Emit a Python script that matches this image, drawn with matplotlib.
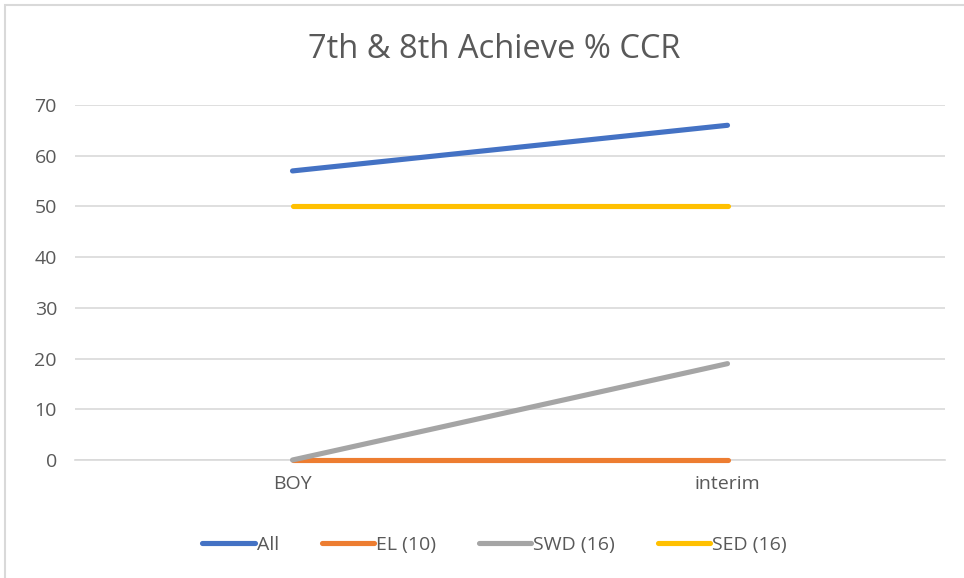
import matplotlib
matplotlib.use("Agg")
import matplotlib.pyplot as plt
from matplotlib.patches import Rectangle

categories = ["BOY", "interim"]
series_names = ["All", "EL (10)", "SWD (16)", "SED (16)"]
all_vals = [57, 66]
el_vals = [0, 0]
swd_vals = [0, 19]
sed_vals = [50, 50]
colors = ["#4472C4", "#ED7D31", "#A5A5A5", "#FFC000"]
y_ticks = [0, 10, 20, 30, 40, 50, 60, 70]

plt.rcParams['font.family'] = ['Open Sans', 'DejaVu Sans']

fig = plt.figure(figsize=(9.64, 5.78), dpi=100)
fig.patches.append(Rectangle((5/964, -0.1), 1.2, 1 - 5/578 + 0.1, transform=fig.transFigure,
                             fill=False, edgecolor="#D9D9D9", linewidth=1.5))
ax = fig.add_axes([75/964, 1 - 460/578, (945 - 75)/964, (460 - 105)/578])

x = list(range(len(categories)))
for i, (name, vals, c) in enumerate(zip(series_names, [all_vals, el_vals, swd_vals, sed_vals], colors)):
    ax.plot(x, vals, color=c, linewidth=3.7, solid_capstyle="round", label=name,
            clip_on=False, zorder=3 + i)

ax.set_xlim(-0.5, len(categories) - 0.5)
ax.set_ylim(0, 70)
ax.set_yticks(y_ticks)
ax.set_xticks(x)
ax.set_xticklabels(categories)
ax.grid(axis="y", color="#D9D9D9", linewidth=1.2)
ax.set_axisbelow(True)
for s in ["top", "right", "left"]:
    ax.spines[s].set_visible(False)
ax.spines["bottom"].set_color("#D9D9D9")
ax.spines["bottom"].set_linewidth(1.2)
ax.spines["bottom"].set_zorder(1)
ax.tick_params(axis="both", length=0, labelsize=14, colors="#595959")
ax.tick_params(axis="y", pad=13)
ax.tick_params(axis="x", pad=11)

fig.text(494/964, 1 - 50/578, "7th & 8th Achieve % CCR", ha="center", va="center",
         fontsize=23.5, color="#595959")

leg = ax.legend(loc="center", bbox_to_anchor=(0.513, 1 - 545/578), bbox_transform=fig.transFigure,
                ncol=4, frameon=False, fontsize=14, handlelength=2.7, handletextpad=0.1,
                columnspacing=2.2)
for t in leg.get_texts():
    t.set_color("#595959")

fig.savefig("out.png", dpi=100)
